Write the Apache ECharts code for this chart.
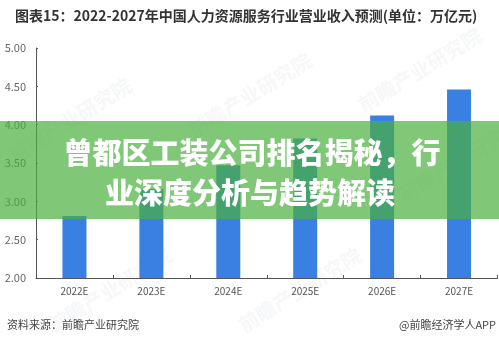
<!DOCTYPE html>
<html>
<head>
<meta charset="utf-8">
<script src="https://cdn.jsdelivr.net/npm/echarts@6/dist/echarts.min.js"></script>
<style>
  html, body { margin: 0; padding: 0; background: #fff; }
  #chart { width: 499px; height: 342px; }
</style>
</head>
<body>
<div id="chart"></div>
<script>
// Revenue forecast, trillion yuan
const years = ['2022E', '2023E', '2024E', '2025E', '2026E', '2027E'];
const revenue = [2.81, 3.16, 3.47, 3.82, 4.12, 4.46];
const yTicks = { min: 2, max: 5, step: 0.5 };

const titleText = '图表15：2022-2027年中国人力资源服务行业营业收入预测(单位：万亿元)';
const bannerLines = ['曾都区工装公司排名揭秘，行', '业深度分析与趋势解读'];
const sourceText = '资料来源：前瞻产业研究院';
const brandText = '@前瞻经济学人APP';
const watermarkText = '前瞻产业研究院';

const cjk = '"Noto Sans CJK SC", "Noto Sans", sans-serif';

const chart = echarts.init(document.getElementById('chart'), null, { renderer: 'canvas' });

// faint diagonal watermarks behind the plot
const marks = [[70, 120], [250, 95], [420, 70], [110, 290], [300, 290], [460, 160]].map(p => ({
  type: 'text', x: p[0], y: p[1], rotation: 0.55, z: 0,
  style: { text: watermarkText, font: '600 20px ' + cjk, fill: 'rgba(170,180,190,0.11)', textAlign: 'center', textVerticalAlign: 'middle' }
}));

chart.setOption({
  animation: false,
  textStyle: { fontFamily: cjk },
  grid: { left: 36, right: 1.5, top: 48, bottom: 64 },
  xAxis: {
    type: 'category',
    data: years,
    axisLine: { lineStyle: { color: '#555', width: 1 } },
    axisTick: { show: true, inside: true, length: 3, lineStyle: { color: '#555' } },
    axisLabel: { color: '#555', fontSize: 10, margin: 8 }
  },
  yAxis: {
    type: 'value',
    min: yTicks.min, max: yTicks.max, interval: yTicks.step,
    axisLine: { show: true, lineStyle: { color: '#555', width: 1 } },
    axisTick: { show: true, inside: true, length: 2, lineStyle: { color: '#555' } },
    splitLine: { show: false },
    axisLabel: { color: '#666', fontSize: 11, margin: 10, formatter: v => v.toFixed(2) }
  },
  series: [{
    type: 'bar',
    data: revenue,
    barWidth: 24,
    itemStyle: { color: '#3a80e2' },
    z: 2
  }],
  graphic: marks.concat([
    {
      type: 'text', left: 15, top: 9, z: 10,
      style: { text: titleText, font: 'bold 14px ' + cjk, fill: '#333' }
    },
    {
      type: 'rect', shape: { x: 0, y: 121, width: 499, height: 98 }, z: 50,
      style: { fill: 'rgba(74,176,62,0.7)' }
    },
    {
      type: 'text', x: 252, y: 153, z: 51,
      style: { text: bannerLines[0], font: '900 29px ' + cjk, fill: '#fff', textAlign: 'center', textVerticalAlign: 'middle' }
    },
    {
      type: 'text', x: 250, y: 193, z: 51,
      style: { text: bannerLines[1], font: '900 29px ' + cjk, fill: '#fff', textAlign: 'center', textVerticalAlign: 'middle' }
    },
    {
      type: 'text', x: 7, y: 325, z: 10,
      style: { text: sourceText, font: '11px ' + cjk, fill: '#444', textVerticalAlign: 'middle' }
    },
    {
      type: 'text', x: 496, y: 325, z: 10,
      style: { text: brandText, font: '11px ' + cjk, fill: '#444', textAlign: 'right', textVerticalAlign: 'middle' }
    }
  ])
});
</script>
</body>
</html>
